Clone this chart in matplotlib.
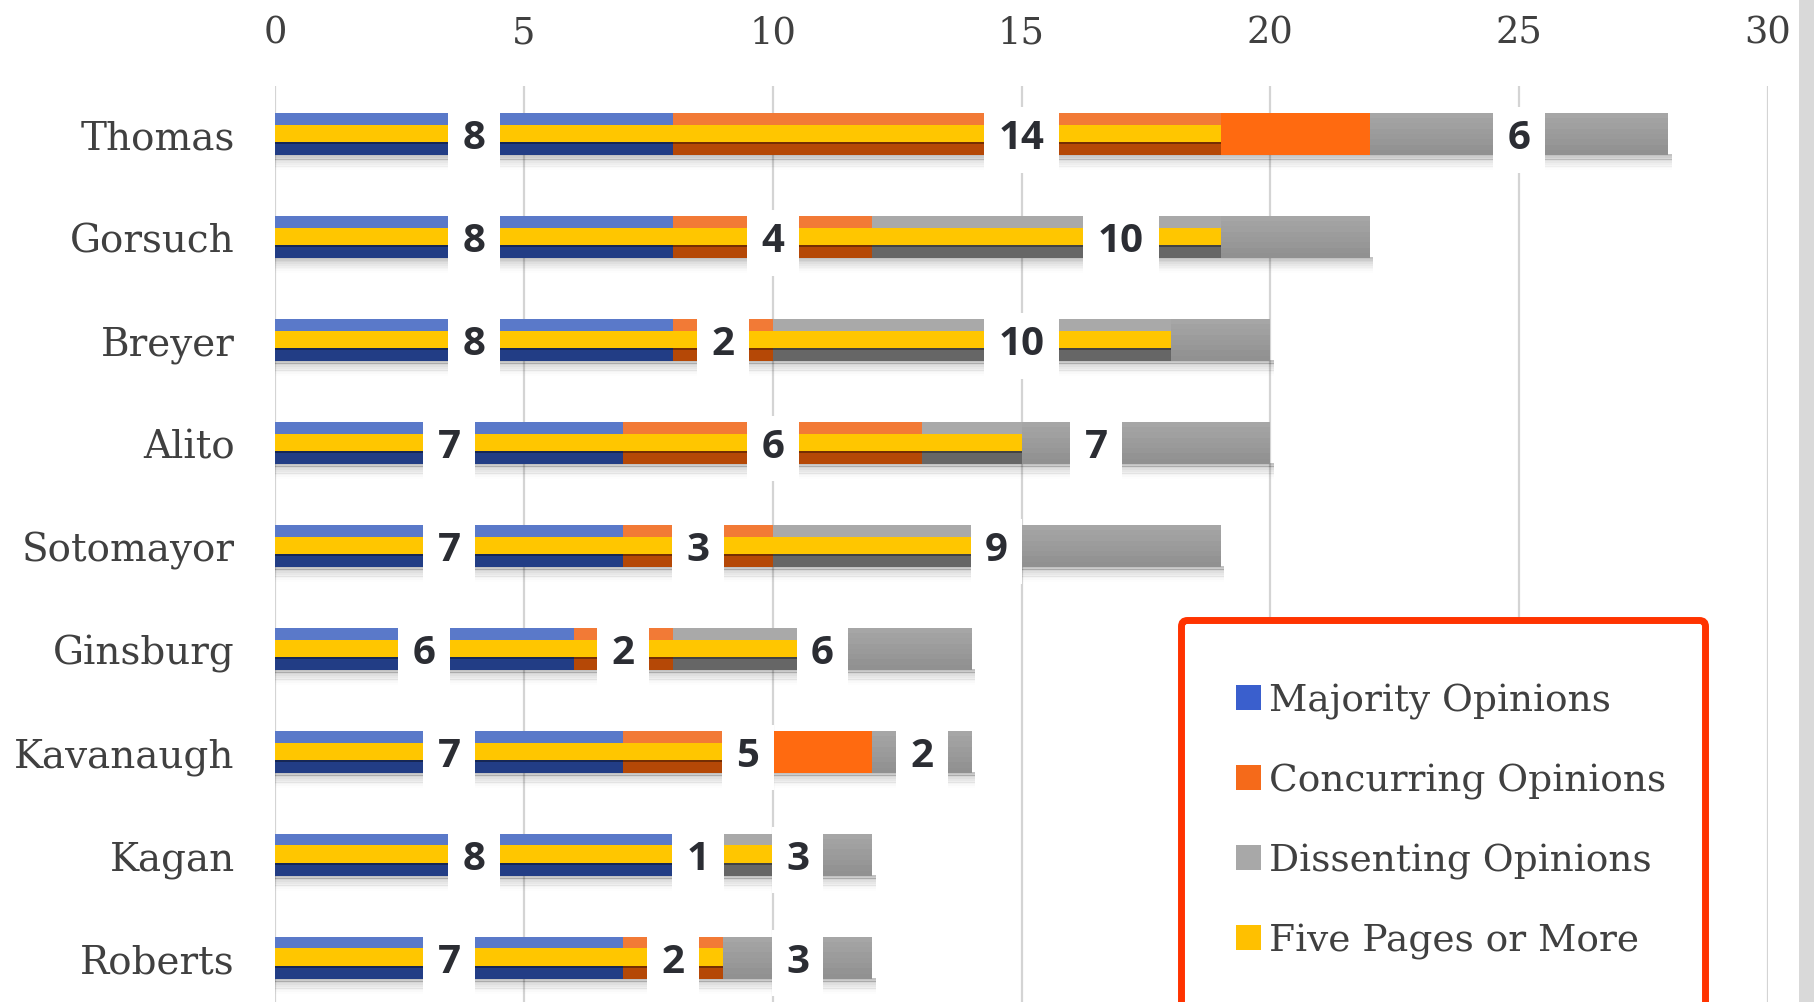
import numpy as np
import matplotlib
matplotlib.use("Agg")
import matplotlib.pyplot as plt
from matplotlib.patches import Rectangle, Patch, FancyBboxPatch
from matplotlib.transforms import IdentityTransform

# ---- data ----
justices = ["Thomas", "Gorsuch", "Breyer", "Alito", "Sotomayor",
            "Ginsburg", "Kavanaugh", "Kagan", "Roberts"]
majority = [8, 8, 8, 7, 7, 6, 7, 8, 7]
concurring = [14, 4, 2, 6, 3, 2, 5, 1, 2]
dissenting = [6, 10, 10, 7, 9, 6, 2, 3, 3]
five_pages = [19, 19, 18, 15, 14, 11, 9, 10, 9]
series_names = ["Majority Opinions", "Concurring Opinions",
                "Dissenting Opinions", "Five Pages or More"]
x_ticks = [0, 5, 10, 15, 20, 25, 30]

# ---- styling ----
SERIF = "DejaVu Serif"
TEXT_C = "#404040"
plain_c = ["#4a6cc0", "#ff6a10", "#a6a6a6"]
top_c = ["#5a79c9", "#f27a36", "#a9a9a9"]
bot_c = ["#223d85", "#b54806", "#666666"]
legend_c = ["#3a5fcd", "#f56a1a", "#a8a8a8", "#ffc000"]
YELLOW = "#ffc600"
BAR_H = 0.41
Y_TOP, Y_BOT = -0.09, 0.08

W, H = 1814, 1003
fig = plt.figure(figsize=(W / 100, H / 100), dpi=100)
ax = fig.add_axes([275 / W, 0, (1768 - 275) / W, 1 - 87 / H])
ax.set_xlim(0, 30)
ax.set_ylim(8.43, -0.466)

vals = np.array([majority, concurring, dissenting], dtype=float)
ends = np.cumsum(vals, axis=0)
lefts = ends - vals
totals = ends[-1]
yel = np.array(five_pages, dtype=float)
y = np.arange(len(justices))

# soft drop shadow under every bar
for k in range(9):
    ax.barh(y + BAR_H / 2 - 0.01 + k * 0.017, totals + 0.07, height=0.019,
            align="edge", color="black", alpha=0.24 * (1 - k / 9) ** 1.6,
            lw=0, zorder=2)

# stacked segments
for s in range(3):
    ax.barh(y, vals[s], left=lefts[s], height=BAR_H, color=plain_c[s],
            lw=0, zorder=3)
# gentle top-to-bottom darkening on the dissent bars
n_steps = 8
for k in range(n_steps):
    ax.barh(y - BAR_H / 2 + k * BAR_H / n_steps, vals[2], left=lefts[2],
            height=BAR_H / n_steps, align="edge", color="black",
            alpha=0.018 * k, lw=0, zorder=3)

# bevel bands where the five-page bar runs across a segment
overlap = np.clip(np.minimum(ends, yel) - lefts, 0, None)
for s in range(3):
    ax.barh(y - BAR_H / 2, overlap[s], left=lefts[s], height=BAR_H / 2 + Y_TOP,
            align="edge", color=top_c[s], lw=0, zorder=4)
    ax.barh(y + Y_BOT, overlap[s], left=lefts[s], height=BAR_H / 2 - Y_BOT,
            align="edge", color=bot_c[s], lw=0, zorder=4)

# five pages or more
ax.barh(y + Y_TOP, yel, height=Y_BOT - Y_TOP, align="edge", color=YELLOW,
        lw=0, zorder=5)
ax.barh(y + Y_BOT, yel, height=0.022, align="edge", color="black",
        alpha=0.35, lw=0, zorder=5)

# value labels in white boxes
for s in range(3):
    for i in range(len(justices)):
        v = vals[s, i]
        cx = lefts[s, i] + v / 2
        txt = str(int(v))
        w = 0.57 + 0.47 * len(txt)
        ax.add_patch(Rectangle((cx - w / 2, i - BAR_H / 2 - 0.06), w,
                               BAR_H + 0.06 + 0.17, facecolor="white",
                               edgecolor="none", zorder=6))
        ax.text(cx, i + 0.14, txt, ha="center", va="baseline", fontsize=29,
                fontfamily="Open Sans", fontweight="bold", color="#2b2d33",
                zorder=7)

# axes
ax.xaxis.tick_top()
ax.set_xticks(x_ticks)
ax.set_xticklabels([str(t) for t in x_ticks], fontfamily=SERIF)
ax.set_yticks(y)
ax.set_yticklabels(justices, fontfamily=SERIF)
ax.tick_params(axis="x", length=0, pad=25.5, labelsize=26.5, labelcolor=TEXT_C)
ax.tick_params(axis="y", length=0, pad=29, labelsize=28, labelcolor=TEXT_C)
ax.grid(axis="x", color="#d4d4d4", lw=1.6)
ax.set_axisbelow(True)
for sp in ax.spines.values():
    sp.set_visible(False)

# legend frame (runs off the bottom edge of the figure)
frame = FancyBboxPatch((1181.5, H - 1015), 1705.5 - 1181.5, 1015 - 621.5,
                       boxstyle="round,pad=0,rounding_size=6",
                       transform=IdentityTransform(), facecolor="white",
                       edgecolor="#ff3300", lw=5, zorder=9, clip_on=False)
ax.add_artist(frame)

handles = [Patch(facecolor=c, edgecolor="none") for c in legend_c]
leg = ax.legend(handles, series_names, loc="upper left",
                bbox_to_anchor=(1181.5 / W, 1 - 629.5 / H),
                bbox_transform=fig.transFigure, borderaxespad=0,
                prop={"family": SERIF, "size": 27}, handlelength=0.667,
                handleheight=0.667, handletextpad=0.21, labelspacing=1.16,
                borderpad=1.45, frameon=False)
for t in leg.get_texts():
    t.set_color(TEXT_C)
leg.set_zorder(10)

# window edge strip on the right
fig.patches.append(Rectangle((1799 / W, 0), 15 / W, 1, transform=fig.transFigure,
                             facecolor="#d9d9d9", edgecolor="none"))

fig.savefig("out.png", dpi=100, facecolor="white")
